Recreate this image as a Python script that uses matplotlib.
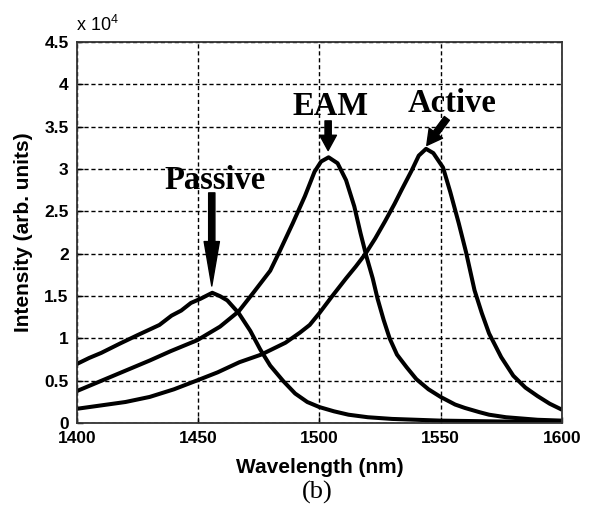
import numpy as np
import matplotlib.pyplot as plt

# wavelength (nm) and intensity (x 1e4, arb. units)
wl_passive = [1400, 1405, 1410, 1417.7, 1425, 1434, 1439, 1443, 1447, 1451, 1455.8,
              1459, 1462, 1466.7, 1471.5, 1475.6, 1479.7, 1485, 1490, 1495, 1500,
              1506, 1512, 1520, 1530, 1550, 1575, 1600]
passive = [0.70, 0.77, 0.83, 0.94, 1.04, 1.16, 1.27, 1.33, 1.42, 1.47, 1.54,
           1.50, 1.45, 1.30, 1.09, 0.87, 0.68, 0.50, 0.35, 0.25, 0.19,
           0.14, 0.10, 0.07, 0.05, 0.03, 0.02, 0.01]

wl_eam = [1400, 1410, 1420, 1430, 1438.6, 1449.6, 1459, 1466.7, 1473, 1479.7, 1483.6,
          1489, 1494, 1498, 1500.7, 1503.8, 1507.5, 1511, 1514.4, 1517, 1519.4, 1522,
          1524, 1526.5, 1529, 1532, 1536, 1540, 1545, 1550, 1556, 1560, 1566, 1570,
          1577, 1590, 1600]
eam = [0.38, 0.50, 0.62, 0.74, 0.85, 0.98, 1.14, 1.32, 1.55, 1.80, 2.03,
       2.36, 2.68, 2.97, 3.09, 3.14, 3.07, 2.87, 2.56, 2.24, 1.97, 1.71,
       1.47, 1.22, 1.00, 0.81, 0.66, 0.52, 0.40, 0.31, 0.22, 0.18, 0.13, 0.10,
       0.07, 0.04, 0.03]

wl_active = [1400, 1410, 1420, 1430, 1440, 1450, 1458, 1467, 1476, 1486, 1492, 1496,
             1500, 1505, 1511, 1515, 1519, 1523, 1527, 1531, 1534, 1538, 1541, 1544,
             1547, 1551, 1554, 1557.5, 1560.5, 1564, 1567, 1570, 1575, 1580, 1585,
             1590, 1595, 1600]
active = [0.17, 0.21, 0.25, 0.31, 0.40, 0.51, 0.60, 0.72, 0.81, 0.95, 1.07, 1.16,
          1.30, 1.49, 1.71, 1.85, 2.00, 2.18, 2.38, 2.59, 2.76, 2.98, 3.16, 3.24,
          3.19, 3.02, 2.73, 2.36, 2.02, 1.57, 1.30, 1.06, 0.78, 0.56, 0.42,
          0.32, 0.23, 0.16]

yticks = [0, 0.5, 1, 1.5, 2, 2.5, 3, 3.5, 4, 4.5]
ytick_labels = ['0', '0.5', '1', '1.5', '2', '2.5', '3', '3.5', '4', '4.5']
xticks = [1400, 1450, 1500, 1550, 1600]

plt.rcParams['font.family'] = 'Liberation Sans'
plt.rcParams['mathtext.default'] = 'regular'

fig = plt.figure(figsize=(5.97, 5.08), dpi=100)
ax = fig.add_axes([0.129, 0.167, 0.812, 0.750])

for w, v in [(wl_passive, passive), (wl_eam, eam), (wl_active, active)]:
    ax.plot(w, v, color='black', linewidth=2.9, solid_joinstyle='round', solid_capstyle='round')

ax.set_xlim(1400, 1600)
ax.set_ylim(0, 4.5)
ax.set_xticks(xticks)
ax.set_yticks(yticks)
ax.set_yticklabels(ytick_labels)
ax.tick_params(direction='in', length=4, width=1, labelsize=12.5, pad=6)
for lab in ax.get_xticklabels() + ax.get_yticklabels():
    lab.set_fontweight('bold')
ax.grid(True, color='black', linestyle=(0, (3, 2)), linewidth=1.0)
for s in ax.spines.values():
    s.set_linewidth(1.3)
    s.set_color('#333333')

ax.set_xlabel('Wavelength (nm)', fontsize=15, fontweight='bold', labelpad=8)
ax.set_ylabel('Intensity (arb. units)', fontsize=15, fontweight='bold', labelpad=8)

fig.text(0.127, 0.951, r'x 10$^4$', fontsize=13, ha='left', va='center')
fig.text(0.531, 0.030, '(b)', fontsize=19, family='Liberation Serif', ha='center', va='center')

# labels and arrows
serif = dict(fontsize=23.5, fontweight='bold', family='Liberation Serif', ha='center', va='baseline')
ax.text(1457, 2.77, 'Passive', **serif)
ax.text(1504.7, 3.64, 'EAM', **serif)
ax.text(1554.9, 3.675, 'Active', **serif)

ax.annotate('', xy=(1455.6, 1.62), xytext=(1455.6, 2.72),
            arrowprops=dict(facecolor='black', edgecolor='black', width=4.5, headwidth=11, headlength=32))
ax.annotate('', xy=(1503.6, 3.22), xytext=(1503.6, 3.57),
            arrowprops=dict(facecolor='black', edgecolor='black', width=4.5, headwidth=12, headlength=11))
ax.annotate('', xy=(1544.3, 3.28), xytext=(1552.6, 3.60),
            arrowprops=dict(facecolor='black', edgecolor='black', width=4.5, headwidth=12, headlength=11))

fig.savefig('out.png', dpi=100)
